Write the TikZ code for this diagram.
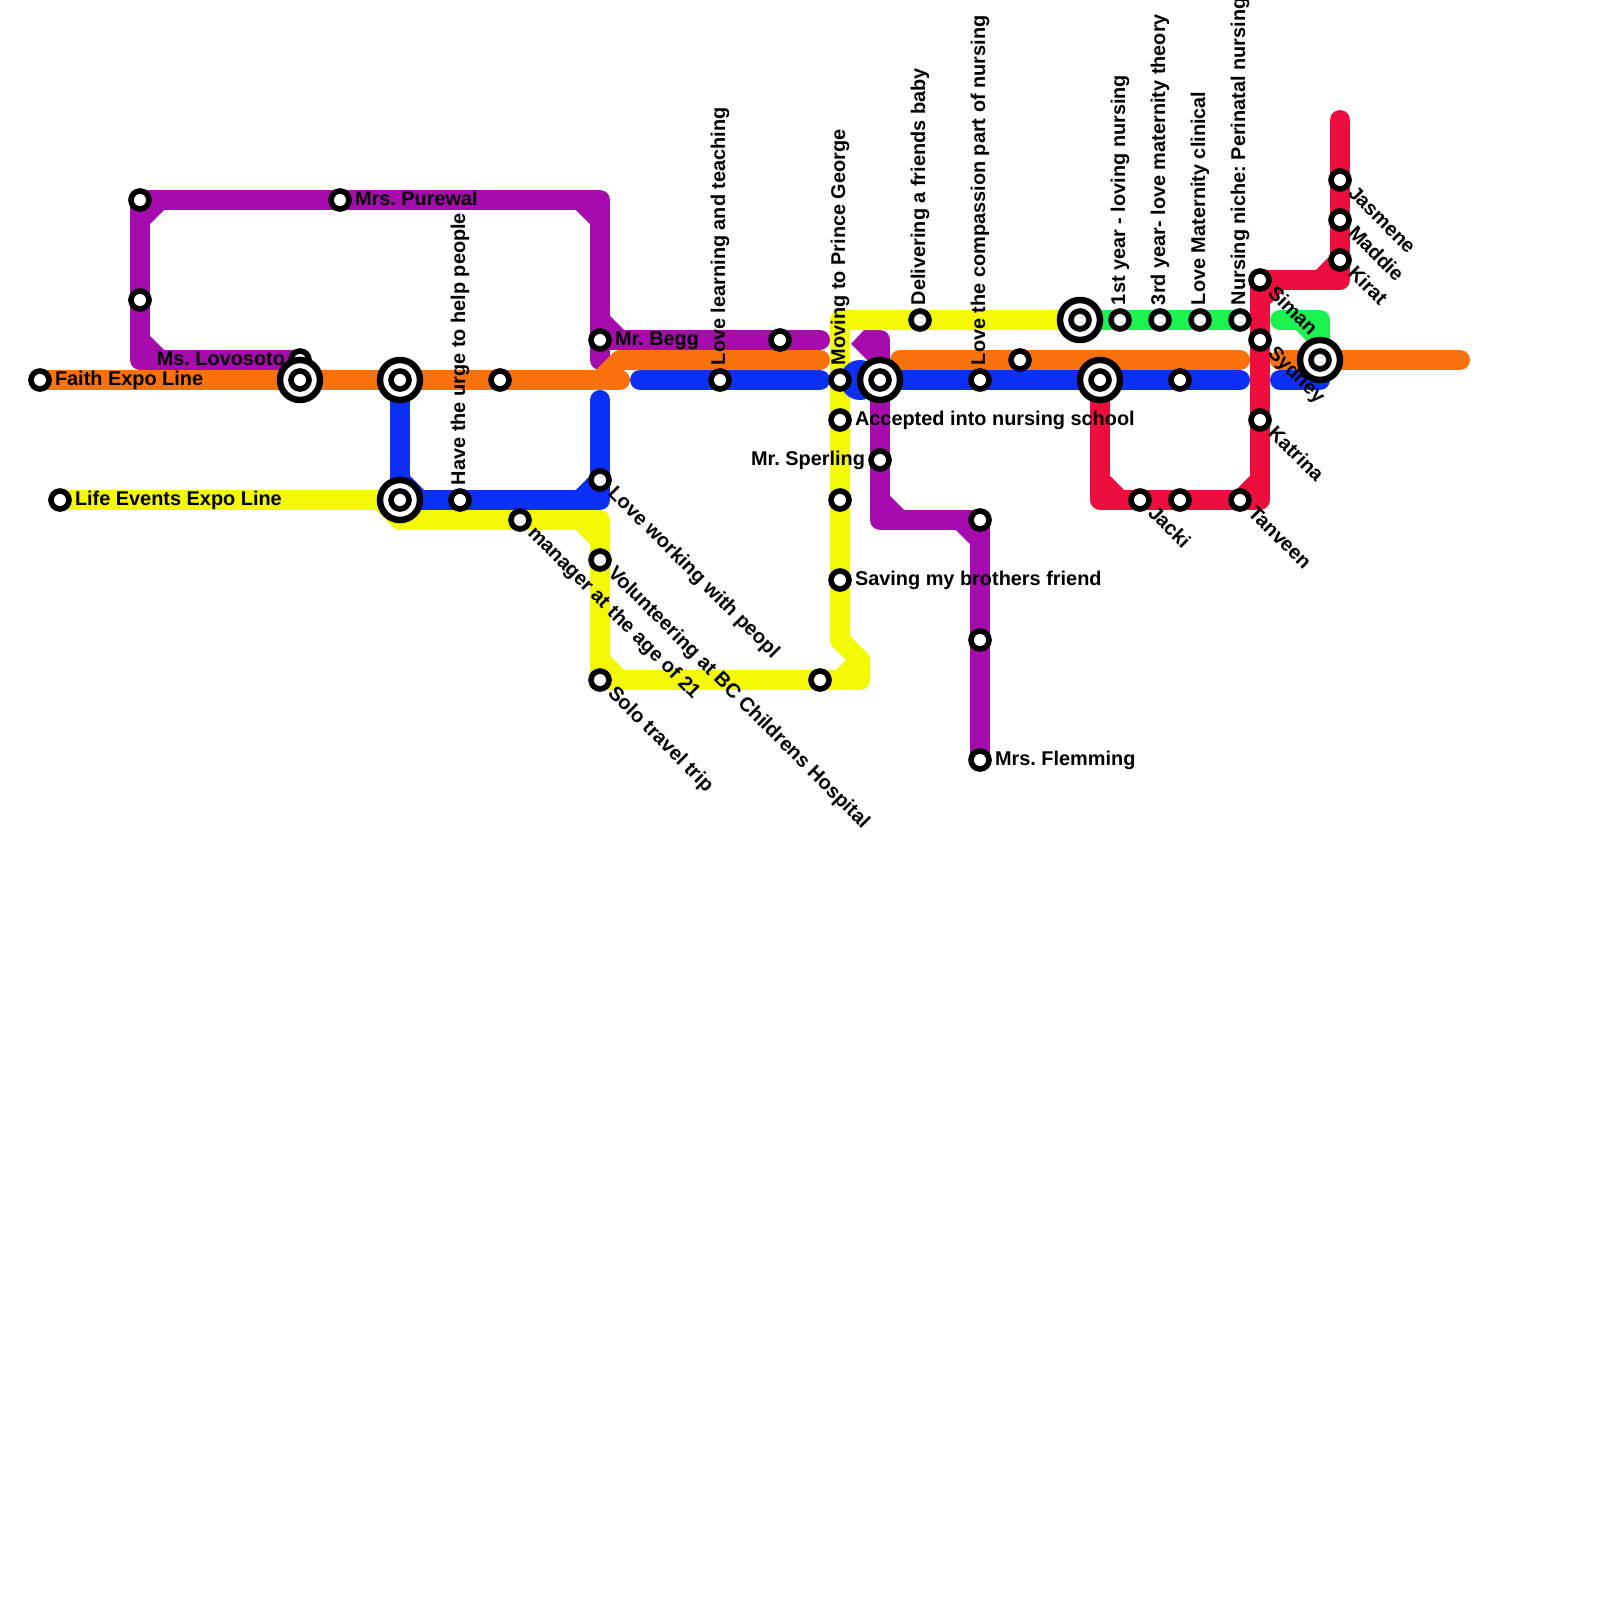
\documentclass[tikz,border=0pt]{standalone}
\usepackage{fontspec}
\setmainfont{Liberation Sans}
\definecolor{lnpurple}{HTML}{A60BAE}
\definecolor{lnorange}{HTML}{F9710A}
\definecolor{lnblue}{HTML}{0B2FF4}
\definecolor{lnyellow}{HTML}{F4F906}
\definecolor{lnred}{HTML}{EE0E3E}
\definecolor{lngreen}{HTML}{1CF250}
\tikzset{
  metro/.style={line width=20pt,line cap=round,line join=round},
  halt/.style={circle,draw=black,fill=white,line width=5.6pt,minimum size=18pt,inner sep=0pt,outer sep=0pt},
  hub/.style={circle,draw=black,fill=white,line width=6.5pt,minimum size=40pt,inner sep=0pt,outer sep=0pt},
  lab/.style={font=\bfseries\fontsize{19.9}{20}\selectfont\frenchspacing,text=black,inner sep=0pt,outer sep=0pt},
  labE/.style={lab,anchor=base west},
  labW/.style={lab,anchor=base east},
  labN/.style={lab,anchor=base west,rotate=90},
  labS/.style={lab,font=\bfseries\fontsize{20}{20}\selectfont\frenchspacing,anchor=base west,rotate=-45},
}
\begin{document}
\begin{tikzpicture}[x=1pt,y=-1pt]
\useasboundingbox (0,0) rectangle (1600,1600);
% corner points
\foreach \n/\x/\y in {
 a1/140/360,a2/140/200,a3/600/200,a4/600/360,a5/600/340,a6/820/340,a7/140/340,a8/160/360,a9/140/220,a10/160/200,a11/580/200,a12/600/220,a13/600/320,a14/620/340,
 b1/980/740,b2/980/520,b3/880/520,b4/880/340,b7/880/500,b8/900/520,b9/960/520,b10/980/540,
 o1/40/380,o2/620/380,o3/600/380,o4/620/360,o5/820/360,o6/900/360,o7/1240/360,o8/1280/360,o9/1460/360,
 c1/600/400,c2/600/500,c3/420/500,c4/400/480,c5/580/500,c6/600/480,c7/640/380,c8/820/380,c9/860/380,c10/1240/380,c11/1280/380,c12/1320/380,
 y1/60/500,y2/400/500,y3/380/500,y4/400/520,y5/600/520,y6/600/680,y7/860/680,y8/860/660,y9/840/640,y10/840/320,y11/1080/320,y12/580/520,y13/600/540,y14/600/660,y15/620/680,y16/840/680,
 g1/1080/320,g2/1240/320,g3/1280/320,g4/1320/320,g5/1320/360,g6/1300/320,g7/1320/340,
 r1/1100/380,r2/1100/500,r3/1260/500,r4/1260/280,r5/1340/280,r6/1340/120,r7/1100/480,r8/1120/500,r9/1240/500,r10/1260/480,r11/1320/280,r12/1340/260,r13/1260/300,r14/1280/280}
 {\coordinate (\n) at (\x,\y);}
% stations
\foreach \n/\x/\y in {
 sfaith/40/380,slife/60/500,sp1/140/200,sp2/140/300,spure/340/200,slovo/300/360,surge/460/500,so1/500/380,sman/520/520,sbegg/600/340,swork/600/480,svol/600/560,ssolo/600/680,slearn/720/380,sp3/780/340,sy1/820/680,smove/840/380,sacc/840/420,sy2/840/500,ssav/840/580,sspe/880/460,sdel/920/320,scomp/980/380,so2/1020/360,sp4/980/520,sp5/980/640,sflem/980/760,sfirst/1120/320,sthird/1160/320,smat/1200/320,snic/1240/320,sc1/1180/380,sjac/1140/500,sr1/1180/500,stan/1240/500,ssim/1260/280,ssyd/1260/340,skat/1260/420,sjas/1340/180,smad/1340/220,skir/1340/260}
 {\coordinate (\n) at (\x,\y);}
\foreach \n/\x/\y in {h1/300/380,h2/400/380,h3/400/500,h4/880/380,h5/1080/320,h6/1100/380,h7/1320/360}
 {\coordinate (\n) at (\x,\y);}

% lines
\begin{scope}[metro]
 \draw[lnpurple] (slovo) -- (a1) -- (a2) -- (a3) -- (a4);
 \draw[lnpurple] (a5) -- (a6);
 \draw[lnpurple] (a7) -- (a8) (a9) -- (a10) (a11) -- (a12) (a13) -- (a14);
 \draw[lnpurple] (sflem) -- (b2) -- (b3) -- (b4);
 \draw[lnpurple] (b7) -- (b8) (b9) -- (b10);
 \fill[lnpurple] (851,344) -- (864,330) -- (880,330) -- (880,360) -- (867,360) -- cycle;
 \draw[lnblue] (h2) -- (h3) -- (c2) -- (c1);
 \draw[lnblue] (c4) -- (c3) (c5) -- (c6);
 \draw[lnblue] (c7) -- (c8);
 \draw[lnblue] (c9) -- (c10);
 \draw[lnblue] (c11) -- (c12);
 \draw[lnorange] (o1) -- (o2);
 \draw[lnorange] (o3) -- (o4) -- (o5);
 \draw[lnorange] (o6) -- (o7);
 \draw[lnorange] (o8) -- (o9);
 \draw[lnyellow] (y1) -- (y2);
 \draw[lnyellow] (y3) -- (y4) -- (y5) -- (y6) -- (y7) -- (y8) -- (y9) -- (y10) -- (y11);
 \draw[lnyellow] (y12) -- (y13) (y14) -- (y15) (y8) -- (y16);
 \fill[lnblue] (c9) circle (20pt);
 \draw[lngreen] (g1) -- (g2);
 \draw[lngreen] (g3) -- (g4) -- (g5);
 \draw[lngreen] (g6) -- (g7);
 \draw[lnred] (r1) -- (r2) -- (r3) -- (r4) -- (r5) -- (r6);
 \draw[lnred] (r7) -- (r8) (r9) -- (r10) (r11) -- (r12) (r13) -- (r14);
\end{scope}

% station markers
\node[halt] (slovom) at (slovo) {};
\foreach \n in {h1,h2,h3,h4,h5,h6,h7}{
 \node[hub] (\n m) at (\n) {};
 \node[halt] (\n i) at (\n) {};
}
\foreach \n in {sfaith,slife,sp1,sp2,spure,so1,surge,sman,sbegg,swork,svol,ssolo,slearn,sp3,sy1,smove,sacc,sy2,ssav,sspe,sdel,scomp,so2,sp4,sp5,sflem,sfirst,sthird,smat,snic,sc1,sjac,sr1,stan,ssim,ssyd,skat,sjas,smad,skir}{
 \node[halt] (\n m) at (\n) {};
}

% labels
\node[labE] (tfaith) at ([shift={(15,5)}]sfaith) {Faith Expo Line};
\node[labE] (tlife) at ([shift={(15,5)}]slife) {Life Events Expo Line};
\node[labE] (tpure) at ([shift={(15,5)}]spure) {Mrs. Purewal};
\node[labW] (tlovo) at ([shift={(-15,5)}]slovo) {Ms. Lovosoto};
\node[labE] (tbegg) at ([shift={(15,5)}]sbegg) {Mr. Begg};
\node[labE] (tacc) at ([shift={(15,5)}]sacc) {Accepted into nursing school};
\node[labW] (tspe) at ([shift={(-15,5)}]sspe) {Mr. Sperling};
\node[labE] (tsav) at ([shift={(15,5)}]ssav) {Saving my brothers friend};
\node[labE] (tflem) at ([shift={(15,5)}]sflem) {Mrs. Flemming};
\node[labN] (turge) at ([shift={(5,-15)}]surge) {Have the urge to help people};
\node[labN] (tlearn) at ([shift={(5,-15)}]slearn) {Love learning and teaching};
\node[labN] (tmove) at ([shift={(5,-15)}]smove) {Moving to Prince George};
\node[labN] (tdel) at ([shift={(5,-15)}]sdel) {Delivering a friends baby};
\node[labN] (tcomp) at ([shift={(5,-15)}]scomp) {Love the compassion part of nursing};
\node[labN] (tfirst) at ([shift={(5,-15)}]sfirst) {1st year - loving nursing};
\node[labN] (tthird) at ([shift={(5,-15)}]sthird) {3rd year- love maternity theory};
\node[labN] (tmat) at ([shift={(5,-15)}]smat) {Love Maternity clinical};
\node[labN] (tnic) at ([shift={(5,-15)}]snic) {Nursing niche: Perinatal nursing};
\node[labS] (tman) at ([shift={(7,14)}]sman) {manager at the age of 21};
\node[labS] (twork) at ([shift={(7,14)}]swork) {Love working with peopl};
\node[labS] (tvol) at ([shift={(7,14)}]svol) {Volunteering at BC Childrens Hospital};
\node[labS] (tsolo) at ([shift={(7,14)}]ssolo) {Solo travel trip};
\node[labS] (tjac) at ([shift={(7,14)}]sjac) {Jacki};
\node[labS] (ttan) at ([shift={(7,14)}]stan) {Tanveen};
\node[labS] (tsim) at ([shift={(7,14)}]ssim) {Siman};
\node[labS] (tsyd) at ([shift={(7,14)}]ssyd) {Sydney};
\node[labS] (tkat) at ([shift={(7,14)}]skat) {Katrina};
\node[labS] (tjas) at ([shift={(7,14)}]sjas) {Jasmene};
\node[labS] (tmad) at ([shift={(7,14)}]smad) {Maddie};
\node[labS] (tkir) at ([shift={(7,14)}]skir) {Kirat};
\end{tikzpicture}
\end{document}
